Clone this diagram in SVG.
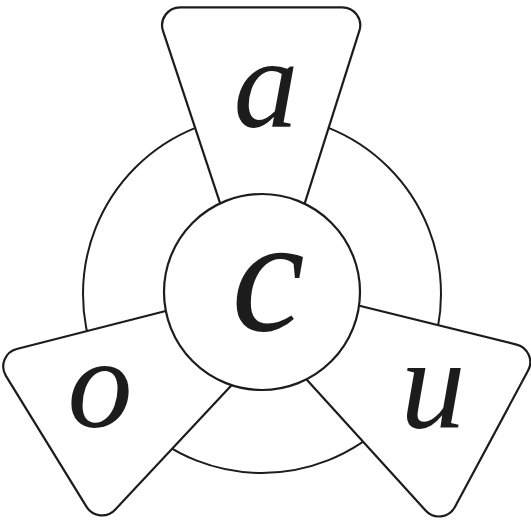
<svg xmlns="http://www.w3.org/2000/svg" width="531" height="525" viewBox="0 0 531 525">
  <style>
    .ln { fill: #ffffff; stroke: #1c1c1c; stroke-width: 2.2; stroke-linejoin: round; }
    .ring { fill: none; stroke: #1c1c1c; stroke-width: 2; }
    .lt { font-family: "Liberation Serif", "DejaVu Serif", serif; font-style: italic; fill: #1c1c1c; text-anchor: middle; }
  </style>
  <rect width="531" height="525" fill="#ffffff"/>
  <g id="ring">
    <circle class="ring" cx="262" cy="294" r="179"/>
  </g>
  <g id="node-a">
    <path class="ln" d="M 238.9 260 L 163 30.9 A 18 18 0 0 1 180.1 7.3 L 342.2 7.3 A 18 18 0 0 1 359.4 30.7 L 286.8 260 Z"/>
    <text class="lt" x="266" y="127" font-size="130">a</text>
  </g>
  <g id="node-o">
    <path class="ln" d="M 245.8 370 L 115.1 509.7 A 18 18 0 0 1 86.6 506.9 L 5.9 375.8 A 18 18 0 0 1 16.7 349 L 200 302.3 Z"/>
    <text class="lt" x="100" y="427" font-size="130">o</text>
  </g>
  <g id="node-u">
    <path class="ln" d="M 330 298.5 L 516.6 344.6 A 18 18 0 0 1 528.1 370.6 L 454.9 506.9 A 18 18 0 0 1 425.6 510.5 L 290 361.3 Z"/>
    <text class="lt" x="433" y="427" font-size="130">u</text>
  </g>
  <g id="node-c">
    <circle class="ln" cx="262" cy="292" r="98"/>
    <text class="lt" x="268" y="330" font-size="165">c</text>
  </g>
</svg>
